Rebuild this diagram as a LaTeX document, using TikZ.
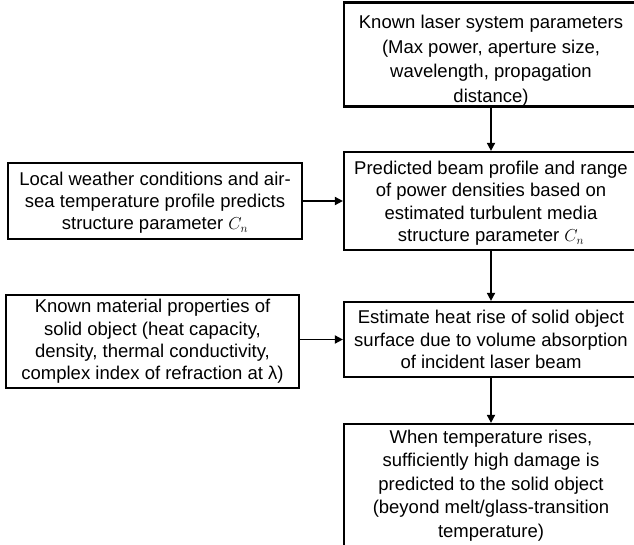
\documentclass[tikz,border=0pt]{standalone}
\usepackage{fontspec}
\setmainfont{Liberation Sans}
\usepackage{xcolor}
\usepackage{tikz}
\usetikzlibrary{positioning, arrows.meta, calc}

\tikzset{
  stagebox/.style={draw=black, line width=2.2pt, fill=white, align=center,
                   minimum width=294pt, inner sep=0pt,
                   font=\fontsize{18.5}{22.3}\selectfont},
  flowarrow/.style={line width=1.7pt, -{Triangle[length=8pt, width=8pt]}}
}

\begin{document}
\begin{tikzpicture}[x=1pt, y=-1pt]
  \useasboundingbox (0,0) rectangle (634,545);

  % right column
  \node[stagebox, minimum height=99pt, font=\fontsize{18.5}{24.7}\selectfont] (laser) at (491,54.5) {%
    \rule{0pt}{26pt}Known laser system parameters\\
    (Max power, aperture size,\\
    wavelength, propagation\\
    distance)};
  \node[stagebox, minimum height=98pt] (beam) at (491,201) {%
    \rule{0pt}{18pt}Predicted beam profile and range\\
    of power densities based on\\
    estimated turbulent media\\
    structure parameter $C_n$};
  \node[stagebox, minimum height=75pt] (heat) at (491,339.5) {%
    Estimate heat rise of solid object\\
    surface due to volume absorption\\
    of incident laser beam};
  \node[stagebox, minimum height=123pt, font=\fontsize{18.5}{23.5}\selectfont] (damage) at (491,485.5) {%
    When temperature rises,\\
    sufficiently high damage is\\
    predicted to the solid object\\
    (beyond melt/glass-transition\\
    temperature)};

  % left column
  \node[stagebox, minimum height=76pt] (weather) at (155,201) {%
    \rule{0pt}{17pt}Local weather conditions and air-\\
    sea temperature profile predicts\\
    structure parameter $C_n$};
  \node[stagebox, minimum width=293pt, minimum height=93pt] (material) at (152.5,341.5) {%
    Known material properties of\\
    solid object (heat capacity,\\
    density, thermal conductivity,\\
    complex index of refraction at λ)};

  % connectors
  \coordinate (matout) at ($(material.east)+(0,-2)$);
  \draw[flowarrow] (laser.south) -- (beam.north);
  \draw[flowarrow] (beam.south) -- (heat.north);
  \draw[flowarrow] (heat.south) -- (damage.north);
  \draw[flowarrow] (weather.east) -- (beam.west);
  \draw[flowarrow] (matout) -- (matout -| heat.west);
\end{tikzpicture}
\end{document}
